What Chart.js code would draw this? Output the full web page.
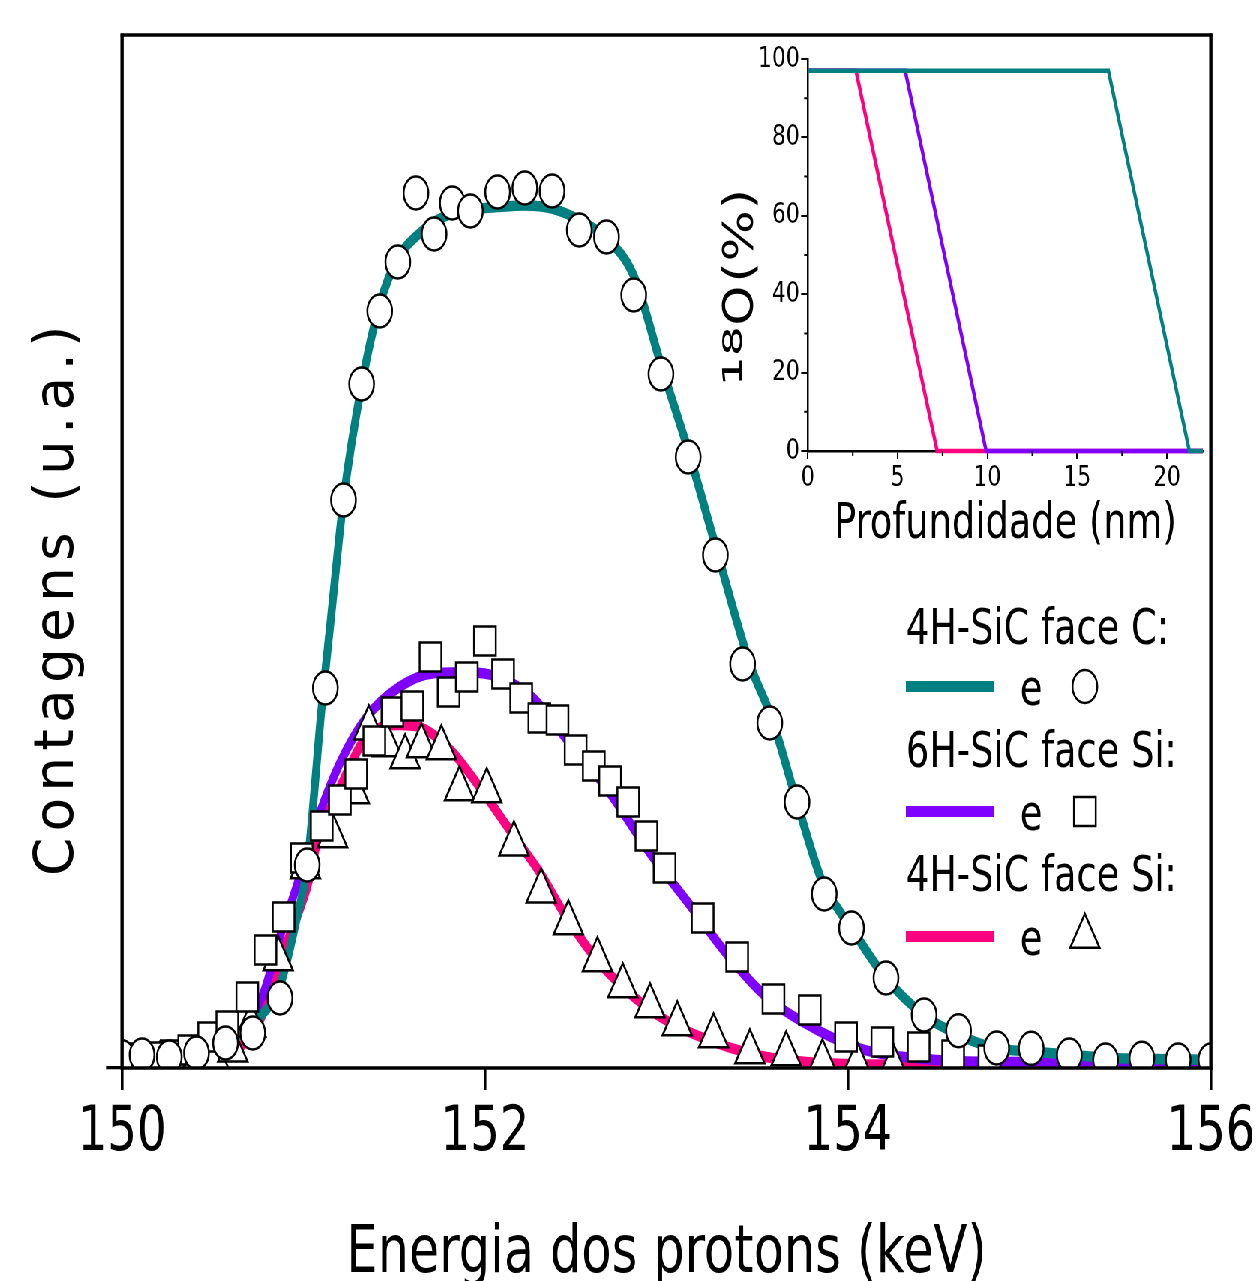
<!DOCTYPE html>
<html><head><meta charset="utf-8">
<script src="https://cdn.jsdelivr.net/npm/chart.js@4.4.1/dist/chart.umd.min.js"></script>
<style>
html,body{margin:0;padding:0;background:#fff;overflow:hidden;width:1257px;height:1281px;}
#wrap{position:absolute;left:0;top:0;width:1676px;height:1281px;transform:scaleX(0.75);transform-origin:0 0;}
#main{position:absolute;left:0;top:0;}
#inset{position:absolute;left:900px;top:30px;}
</style></head><body>
<div id="wrap"><canvas id="main" width="1676" height="1281"></canvas><canvas id="inset" width="720" height="540"></canvas></div>
<script>
// ---------- data (main plot) ----------
const circleX = [150.00,150.11,150.26,150.41,150.57,150.72,150.87,151.02,151.12,151.22,151.32,151.42,151.52,151.62,151.72,151.82,151.92,152.07,152.22,152.37,152.52,152.67,152.82,152.97,153.12,153.27,153.42,153.57,153.72,153.87,154.02,154.21,154.42,154.61,154.82,155.01,155.22,155.42,155.62,155.82,156.00];
const circleY = [1.09,1.26,1.06,1.45,2.42,3.39,6.78,19.65,36.79,54.99,66.21,73.28,78.03,84.71,80.74,83.74,82.96,84.80,85.19,84.90,81.12,80.45,74.83,67.18,59.15,49.66,39.11,33.40,25.75,16.84,13.55,8.71,5.13,3.60,1.94,1.90,1.26,0.77,0.94,0.77,0.77];

const squareX = [150.07,150.17,150.28,150.37,150.48,150.58,150.69,150.79,150.89,150.99,151.10,151.20,151.29,151.39,151.49,151.60,151.70,151.80,151.90,152.00,152.10,152.20,152.30,152.40,152.50,152.60,152.69,152.79,152.89,152.99,153.20,153.39,153.59,153.79,153.99,154.19,154.39,154.58,154.78];
const squareY = [0.97,1.06,1.26,1.74,3.00,4.07,6.87,11.42,14.62,20.33,23.43,25.94,28.46,31.66,34.46,35.04,39.79,36.40,37.85,41.34,38.14,35.82,33.88,33.69,30.78,29.24,27.78,25.75,22.46,19.36,14.52,10.75,6.68,5.61,3.00,2.52,2.03,1.26,0.77];

const triX = [150.11,150.21,150.31,150.41,150.51,150.61,150.71,150.86,151.01,151.16,151.28,151.36,151.46,151.56,151.65,151.76,151.86,152.01,152.16,152.31,152.46,152.62,152.76,152.91,153.06,153.26,153.46,153.66,153.86,154.05,154.25];
const triY = [0.39,0.39,0.48,0.58,0.87,1.74,4.16,10.55,19.46,22.46,26.72,32.91,31.27,30.11,31.17,30.98,27.01,26.82,21.68,17.13,14.04,10.46,7.94,6.00,4.26,3.10,1.55,1.36,0.58,0.39,0.19];

const tealX = [150.00,150.30,150.48,150.63,150.74,150.87,150.96,151.02,151.10,151.15,151.22,151.32,151.42,151.52,151.62,151.72,151.82,151.92,152.07,152.22,152.37,152.52,152.67,152.82,152.97,153.12,153.27,153.46,153.58,153.72,153.87,153.95,154.02,154.21,154.42,154.61,154.82,155.01,155.22,155.42,155.62,156.00];
const tealY = [0.2,0.3,1.5,3.0,4.6,8.0,14.3,19.6,35.0,43.4,55.0,66.1,73.9,78.4,80.5,81.9,82.7,83.1,83.35,83.5,83.2,82.1,80.3,76.7,68.1,59.8,50.6,39.1,33.9,25.7,17.5,15.3,13.5,8.7,5.1,3.2,1.9,1.6,1.3,1.0,0.9,0.8];

const purpleX = [150.00,150.32,150.50,150.65,150.78,150.87,150.96,151.09,151.20,151.35,151.53,151.71,151.90,152.08,152.26,152.41,152.69,152.91,153.12,153.33,153.55,153.83,154.10,154.47,154.73,156.00];
const purpleY = [0.2,0.4,1.0,3.4,7.3,12.7,17.5,24.7,29.5,34.0,36.9,38.2,38.3,37.8,35.9,32.7,26.6,20.8,16.0,11.1,6.9,3.7,1.7,0.8,0.6,0.5];

const pinkX = [150.00,150.43,150.61,150.76,150.87,151.02,151.07,151.22,151.35,151.53,151.64,151.81,151.97,152.15,152.30,152.46,152.63,152.82,153.00,153.28,153.55,153.83,154.29,156.00];
const pinkY = [0.1,0.4,1.5,4.6,10.5,17.5,21.4,27.9,32.1,33.2,33.0,30.8,27.2,22.7,19.0,14.3,10.2,6.9,4.6,2.4,1.06,0.5,0.3,0.2];

const mainXTicks = [150,152,154,156];

// ---------- data (inset) ----------
const insetTealX = [0,16.74,21.25,22];
const insetTealY = [97,97,0,0];
const insetPurpleX = [0,5.42,9.93,22];
const insetPurpleY = [97,97,0,0];
const insetPinkX = [0,2.68,7.20,22];
const insetPinkY = [97,97,0,0];

const legendLabels = ['4H-SiC face C:','6H-SiC face Si:','4H-SiC face Si:'];

// ---------- styling ----------
const S = 0.75;
const FONT = "'DejaVu Sans', 'Verdana', sans-serif";
const TEAL = '#008080', PURPLE = '#8000FF', PINK = '#FF0080';

const pts = (xs, ys) => xs.map((x, i) => ({x, y: ys[i]}));

function markerSet(xs, ys, style, r) {
  return {data: pts(xs, ys), showLine: false, pointStyle: style, pointRadius: r,
    pointBackgroundColor: '#fff', pointBorderColor: '#000', pointBorderWidth: 2.5, clip: 0};
}
function curveSet(xs, ys, color, w) {
  return {data: pts(xs, ys), borderColor: color, borderWidth: w, pointRadius: 0, fill: false,
    cubicInterpolationMode: 'monotone', clip: 0};
}

// draws text rotated -90deg in final (unscaled-by-transform) pixel coords
function rotFit(ctx, text, px, baseX, yBottom, yTop, mode) {
  ctx.save();
  ctx.translate(baseX / S, yBottom);
  ctx.scale(1 / S, 1);
  ctx.rotate(-Math.PI / 2);
  ctx.font = px + 'px ' + FONT;
  ctx.fillStyle = '#000';
  ctx.textAlign = 'left';
  ctx.textBaseline = 'alphabetic';
  const target = yBottom - yTop;
  let m = ctx.measureText(text);
  let ext = m.actualBoundingBoxLeft + m.actualBoundingBoxRight;
  if (mode === 'spacing' && 'letterSpacing' in ctx) {
    const ls = (target - ext) / (text.length - 1);
    ctx.letterSpacing = ls + 'px';
    m = ctx.measureText(text);
    ctx.fillText(text, m.actualBoundingBoxLeft, 0);
  } else {
    const k = target / ext;
    ctx.scale(k, 1);
    ctx.fillText(text, m.actualBoundingBoxLeft, 0);
  }
  ctx.restore();
}

const decor = {
  id: 'decor',
  afterDraw(chart) {
    const ctx = chart.ctx;
    const a = chart.chartArea;
    ctx.save();
    ctx.strokeStyle = '#000';
    ctx.lineCap = 'butt';
    // frame
    ctx.lineWidth = 3.3;
    ctx.beginPath();
    ctx.moveTo(a.left - 2, a.top); ctx.lineTo(a.right + 2, a.top);
    ctx.moveTo(a.left - 2, a.bottom); ctx.lineTo(a.right + 2, a.bottom);
    ctx.stroke();
    ctx.lineWidth = 4.4;
    ctx.beginPath();
    ctx.moveTo(a.left, a.top - 1.5); ctx.lineTo(a.left, a.bottom + 1.5);
    ctx.moveTo(a.right, a.top - 1.5); ctx.lineTo(a.right, a.bottom + 1.5);
    ctx.stroke();

    ctx.fillStyle = '#000';
    // main x title
    ctx.font = '66px ' + FONT;
    ctx.textAlign = 'center';
    ctx.textBaseline = 'alphabetic';
    ctx.fillText('Energia dos protons (keV)', (a.left + a.right) / 2, 1272);
    // inset x title
    ctx.font = '49px ' + FONT;
    ctx.fillText('Profundidade (nm)', 1005.5 / S, 538);

    // legend
    ctx.textAlign = 'left';
    ctx.font = '49px ' + FONT;
    const textBase = [644, 767, 891];
    const rowY = [686.5, 811.5, 936.5];
    const eBase = [705, 830, 955];
    const cols = [TEAL, PURPLE, PINK];
    const styles = [['circle', 16.5], ['rect', 20.5], ['triangle', 22.7]];
    for (let i = 0; i < 3; i++) {
      ctx.fillStyle = '#000';
      ctx.fillText(legendLabels[i], 906 / S, textBase[i]);
      ctx.fillText('e', 1020 / S, eBase[i]);
      ctx.strokeStyle = cols[i];
      ctx.lineWidth = 11;
      ctx.beginPath();
      ctx.moveTo(906 / S, rowY[i]); ctx.lineTo(994 / S, rowY[i]);
      ctx.stroke();
      ctx.fillStyle = '#fff';
      ctx.strokeStyle = '#000';
      ctx.lineWidth = 2.5;
      Chart.helpers.drawPoint(ctx, {pointStyle: styles[i][0], radius: styles[i][1], rotation: 0, borderWidth: 2.5}, 1085 / S, rowY[i]);
    }
    ctx.restore();

    // rotated titles
    rotFit(ctx, 'Contagens (u.a.)', 55, 73, 873, 330, 'spacing');
    rotFit(ctx, '18', 27, 742, 383, 328, 'stretch');
    rotFit(ctx, 'O', 42, 752, 323, 288, 'stretch');
    rotFit(ctx, '(%)', 42, 752, 279, 193, 'stretch');
  }
};

new Chart(document.getElementById('main'), {
  type: 'line',
  data: {datasets: [
    markerSet(circleX, circleY, 'circle', 16.5),
    markerSet(squareX, squareY, 'rect', 20.5),
    markerSet(triX, triY, 'triangle', 22.7),
    curveSet(tealX, tealY, TEAL, 10.5),
    curveSet(purpleX, purpleY, PURPLE, 10.5),
    curveSet(pinkX, pinkY, PINK, 10.5)
  ]},
  options: {
    responsive: false, animation: false, devicePixelRatio: 1, events: [],
    layout: {padding: {top: 35, right: 1676 - 1211 / S, left: 0, bottom: 0}, autoPadding: false},
    plugins: {legend: {display: false}, tooltip: {enabled: false}, title: {display: false}},
    scales: {
      x: {type: 'linear', min: 150, max: 156,
        afterBuildTicks(s) { s.ticks = mainXTicks.map(v => ({value: v})); },
        ticks: {font: {family: FONT, size: 62}, color: '#000', padding: 7, maxRotation: 0, autoSkip: false, callback: v => String(v)},
        grid: {display: true, drawOnChartArea: false, drawTicks: true, tickLength: 22, lineWidth: 3.6, color: '#000'},
        border: {display: false},
        afterFit(s) { s.height = 1281 - 1068; s.paddingLeft = 0; s.paddingRight = 0; }
      },
      y: {type: 'linear', min: 0, max: 100,
        afterBuildTicks(s) { s.ticks = [{value: 0}]; },
        ticks: {callback: () => '', font: {family: FONT, size: 10}},
        grid: {display: true, drawOnChartArea: false, drawTicks: true, tickLength: 16 / S, lineWidth: 3.3, color: '#000'},
        border: {display: false},
        afterFit(s) { s.width = 122 / S; s.paddingTop = 0; s.paddingBottom = 0; }
      }
    }
  },
  plugins: [decor]
});

function insetLine(xs, ys, color) {
  return {data: pts(xs, ys), borderColor: color, borderWidth: 4.5, pointRadius: 0, fill: false, tension: 0, clip: 4};
}

// shorter minor ticks on the inset axes
const minorTicks = {
  id: 'minorTicks',
  afterDraw(chart) {
    const ctx = chart.ctx;
    const xs = chart.scales.x, ys = chart.scales.y;
    ctx.save();
    ctx.strokeStyle = '#000';
    ctx.lineWidth = 2;
    ctx.beginPath();
    xs.ticks.forEach(t => {
      if (t.value % 5 !== 0) {
        const p = xs.getPixelForValue(t.value);
        ctx.moveTo(p, xs.top); ctx.lineTo(p, xs.top + 5);
      }
    });
    ys.ticks.forEach(t => {
      if (t.value % 20 !== 0) {
        const p = ys.getPixelForValue(t.value);
        ctx.moveTo(ys.right, p); ctx.lineTo(ys.right - 5, p);
      }
    });
    ctx.stroke();
    ctx.restore();
  }
};

new Chart(document.getElementById('inset'), {
  type: 'line',
  data: {datasets: [
    insetLine(insetTealX, insetTealY, TEAL),
    insetLine(insetPurpleX, insetPurpleY, PURPLE),
    insetLine(insetPinkX, insetPinkY, PINK)
  ]},
  options: {
    responsive: false, animation: false, devicePixelRatio: 1, events: [],
    layout: {padding: {top: 29, right: 720 - (1203 / S - 900), left: 0, bottom: 0}, autoPadding: false},
    plugins: {legend: {display: false}, tooltip: {enabled: false}},
    scales: {
      x: {type: 'linear', min: 0, max: 22,
        ticks: {stepSize: 2.5, includeBounds: false, autoSkip: false, maxRotation: 0, font: {family: FONT, size: 29}, color: '#000', padding: 2,
          callback: v => (v % 5 === 0 ? String(v) : '')},
        grid: {display: true, drawOnChartArea: false, drawTicks: true, tickLength: 8, lineWidth: 2,
          color: c => (c.tick && c.tick.value % 5 === 0 ? '#000' : 'rgba(0,0,0,0)')},
        border: {display: true, color: '#000', width: 2.5},
        afterFit(s) { s.height = 540 - (451 - 30); s.paddingLeft = 0; s.paddingRight = 0; }
      },
      y: {type: 'linear', min: 0, max: 100,
        ticks: {stepSize: 10, autoSkip: false, font: {family: FONT, size: 29}, color: '#000', padding: 2,
          callback: v => (v % 20 === 0 ? String(v) : '')},
        grid: {display: true, drawOnChartArea: false, drawTicks: true, tickLength: 9, lineWidth: 2,
          color: c => (c.tick && c.tick.value % 20 === 0 ? '#000' : 'rgba(0,0,0,0)')},
        border: {display: true, color: '#000', width: 2.5},
        afterFit(s) { s.width = 808 / S - 900; s.paddingTop = 0; s.paddingBottom = 0; }
      }
    }
  },
  plugins: [minorTicks]
});
</script></body></html>
